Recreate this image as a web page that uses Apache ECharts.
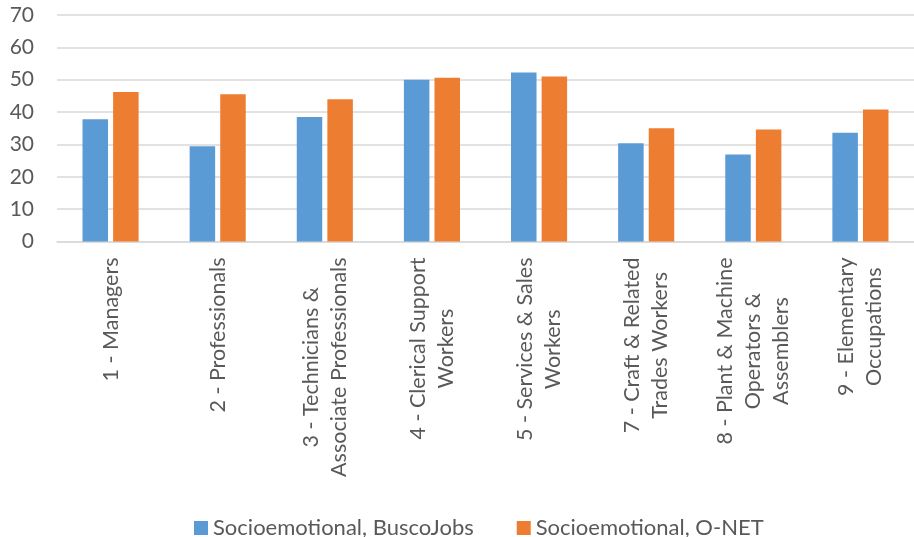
<!DOCTYPE html>
<html>
<head>
<meta charset="utf-8">
<script src="https://cdn.jsdelivr.net/npm/echarts@6/dist/echarts.min.js"></script>
<style>
html,body{margin:0;padding:0;background:#fff;}
#chart{width:914px;height:537px;}
</style>
</head>
<body>
<div id="chart"></div>
<script>
const categories = [
  "1 - Managers",
  "2 - Professionals",
  "3 - Technicians &\nAssociate Professionals",
  "4 - Clerical Support\nWorkers",
  "5 - Services & Sales\nWorkers",
  "7 - Craft & Related\nTrades Workers",
  "8 - Plant & Machine\nOperators &\nAssemblers",
  "9 - Elementary\nOccupations"
];
const seriesNames = ["Socioemotional, BuscoJobs", "Socioemotional, O-NET"];
const buscoJobs = [37.8, 29.4, 38.5, 50.0, 52.2, 30.4, 26.9, 33.6];
const onet = [46.2, 45.5, 44.0, 50.6, 51.0, 35.0, 34.6, 40.8];
const yTicks = [0, 10, 20, 30, 40, 50, 60, 70];

const FONT = 'Lato';
const TXT = '#595959';

const chart = echarts.init(document.getElementById('chart'));
chart.setOption({
  animation: false,
  backgroundColor: '#fff',
  color: ['#5B9BD5', '#ED7D31'],
  grid: { left: 57, right: -10, top: 15, bottom: 295.5, containLabel: false },
  legend: {
    data: seriesNames,
    left: 189,
    top: 512,
    icon: 'rect',
    itemWidth: 14,
    itemHeight: 14,
    itemGap: 43,
    textStyle: { fontFamily: FONT, fontSize: 22, color: TXT }
  },
  xAxis: {
    type: 'category',
    data: categories,
    axisLine: { show: true, lineStyle: { color: '#D9D9D9', width: 1.5 } },
    axisTick: { show: false },
    axisLabel: {
      interval: 0,
      rotate: 90,
      margin: 16,
      color: TXT,
      fontFamily: FONT,
      fontSize: 21.5,
      lineHeight: 28,
      formatter: function (v) {
        return v.split('\n').map(function (l) { return '{c|' + l + '}'; }).join('\n');
      },
      rich: {
        c: { align: 'center', fontFamily: FONT, fontSize: 21.5, lineHeight: 28, color: TXT }
      }
    }
  },
  yAxis: {
    type: 'value',
    min: yTicks[0],
    max: yTicks[yTicks.length - 1],
    interval: 10,
    axisLine: { show: false },
    axisTick: { show: false },
    splitLine: { lineStyle: { color: '#D9D9D9', width: 1.5 } },
    axisLabel: { color: TXT, fontFamily: FONT, fontSize: 21, margin: 23 }
  },
  series: [
    { name: seriesNames[0], type: 'bar', data: buscoJobs, barWidth: 25.5, barGap: '20%' },
    { name: seriesNames[1], type: 'bar', data: onet, barWidth: 25.5, barGap: '20%' }
  ]
});
</script>
</body>
</html>
